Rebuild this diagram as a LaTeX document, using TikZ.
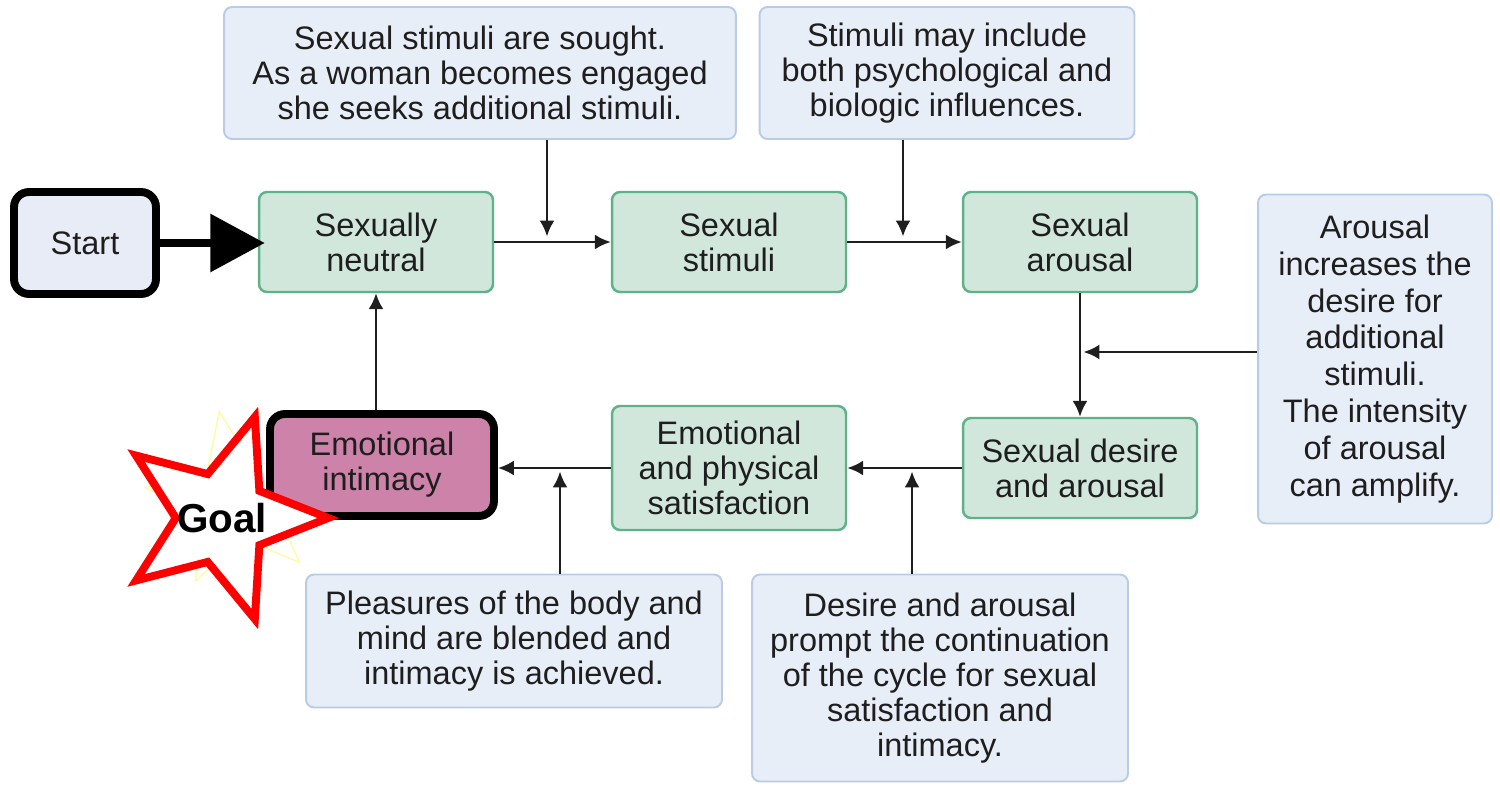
\documentclass[tikz,border=0pt]{standalone}
\usepackage{fontspec}
\setmainfont{Liberation Sans}
\usetikzlibrary{arrows.meta,shapes.geometric}
\definecolor{notefill}{HTML}{E8EEF7}
\definecolor{notedraw}{HTML}{B9CCE4}
\definecolor{stagefill}{HTML}{D2E7DC}
\definecolor{stagedraw}{HTML}{5DB28A}
\definecolor{startfill}{HTML}{E8ECF6}
\definecolor{goalfill}{HTML}{CC82A9}
\definecolor{inkgray}{HTML}{1E1E1E}

\begin{document}
\begin{tikzpicture}
[x=0.02cm,y=-0.02cm,%
  every node/.style={align=center,inner sep=0pt,text=inkgray,font=\fontsize{18.5}{20}\selectfont},%
  note/.style={draw=notedraw,fill=notefill,line width=1.1pt,rounded corners=0.16cm},%
  stage/.style={draw=stagedraw,fill=stagefill,line width=1.4pt,rounded corners=0.16cm,minimum width=4.68cm,minimum height=2cm},%
  bold box/.style={draw=black,line width=4.5pt,rounded corners=0.3cm},%
  link/.style={-{Latex[length=9pt,width=8.5pt]},line width=1.5pt,draw=inkgray}]
\useasboundingbox (0,0) rectangle (1500,790);
%% faint star behind the goal
\node[star,star points=5,star point ratio=2.3,minimum size=3.6cm,shape border rotate=10,draw=yellow!35,line width=0.8pt] (glow) at (235,500) {};
%% upper row
\node[note,minimum width=10.24cm,minimum height=2.64cm] (sought) at (480,73) {Sexual stimuli are sought.\\As a woman becomes engaged\\she seeks additional stimuli.};
\node[note,minimum width=7.5cm,minimum height=2.64cm] (influences) at (947,73) {Stimuli may include\\both psychological and\\biologic influences.};
\node[bold box,fill=startfill,minimum width=2.84cm,minimum height=2.04cm] (start) at (85,243) {Start};
\node[stage] (neutral) at (376,242) {Sexually\\neutral};
\node[stage] (stimuli) at (729,242) {Sexual\\stimuli};
\node[stage] (arousal) at (1080,242) {Sexual\\arousal};
\node[note,minimum width=4.68cm,minimum height=6.58cm,font=\fontsize{18.5}{21}\selectfont] (amplify) at (1375,359) {Arousal\\increases the\\desire for\\additional\\stimuli.\\The intensity\\of arousal\\can amplify.};
%% lower row
\node[stage] (desire) at (1080,468) {Sexual desire\\and arousal};
\node[stage,minimum height=2.48cm] (satisfaction) at (729,468) {Emotional\\and physical\\satisfaction};
\node[bold box,fill=goalfill,minimum width=4.48cm,minimum height=2.04cm] (intimacy) at (382,465) {Emotional\\intimacy};
\node[note,minimum width=8.32cm,minimum height=2.66cm] (blended) at (514,641) {Pleasures of the body and\\mind are blended and\\intimacy is achieved.};
\node[note,minimum width=7.52cm,minimum height=4.14cm] (prompt) at (940,678) {Desire and arousal\\prompt the continuation\\of the cycle for sexual\\satisfaction and\\intimacy.};
%% where the notes meet the cycle
\coordinate (soughtin) at (547,240);
\coordinate (influencesin) at (903,240);
\coordinate (amplifyin) at (1080,352);
\coordinate (promptin) at (912,468);
\coordinate (blendedin) at (560,468);
%%
\draw[line width=5pt,-{Triangle[length=31pt,width=32pt]},shorten >=-4pt] (start.east) -- (start.east -| neutral.west);
\draw[link] (neutral) -- (stimuli);
\draw[link] (stimuli) -- (arousal);
\draw[link] (arousal) -- (desire);
\draw[link] (desire) -- (satisfaction);
\draw[link] (satisfaction.west) -- (satisfaction.west -| intimacy.east);
\draw[link] (intimacy.north -| neutral.south) -- (neutral.south);
\draw[link,shorten >=2pt] (sought.south -| soughtin) -- (soughtin);
\draw[link,shorten >=2pt] (influences.south -| influencesin) -- (influencesin);
\draw[link,shorten >=2pt] (amplify.west |- amplifyin) -- (amplifyin);
\draw[link,shorten >=2pt] (prompt.north -| promptin) -- (promptin);
\draw[link,shorten >=2pt] (blended.north -| blendedin) -- (blendedin);
%% goal marker
\node[star,star points=5,star point ratio=2.3,minimum size=4.25cm,shape border rotate=-90,draw=red,line width=4.5pt,fill=white,
  label={[text=black,font=\fontsize{23}{23}\selectfont\bfseries]center:Goal}] (goal) at (222,518) {};
\end{tikzpicture}
\end{document}
